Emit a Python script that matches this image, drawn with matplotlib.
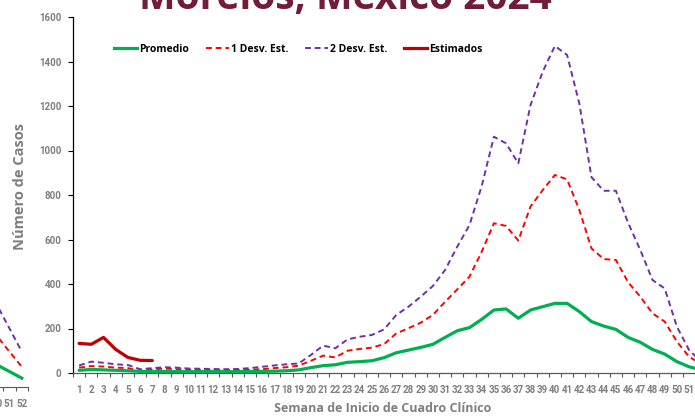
import numpy as np
import matplotlib
matplotlib.use("Agg")
import matplotlib.pyplot as plt
from matplotlib.lines import Line2D

# ---------------- data ----------------
weeks = list(range(1, 53))
promedio = [12, 16, 14, 12, 10, 7, 7, 7, 6, 6, 6, 6, 6, 6, 7, 7, 8, 10, 14, 24,
            33, 37, 48, 51, 55, 69, 91, 103, 115, 129, 160, 190, 204, 241, 283, 288,
            246, 283, 298, 313, 313, 276, 231, 211, 196, 160, 138, 106, 85, 51, 28, 14]
desv1 = [24, 31, 29, 24, 22, 9, 16, 20, 17, 15, 14, 13, 13, 13, 15, 17, 22, 26, 33, 55,
         78, 70, 100, 108, 114, 130, 178, 201, 226, 261, 320, 376, 433, 545, 673, 661,
         595, 748, 822, 890, 870, 733, 560, 512, 508, 408, 343, 268, 231, 141, 73, 40]
desv2 = [34, 51, 46, 39, 36, 17, 22, 26, 24, 20, 19, 18, 17, 18, 22, 28, 34, 39, 43, 81,
         123, 111, 151, 163, 171, 196, 261, 298, 343, 391, 463, 568, 665, 840, 1062, 1032,
         942, 1204, 1354, 1470, 1429, 1212, 880, 819, 819, 675, 553, 418, 380, 208, 103, 50]
est_weeks = [1, 2, 3, 4, 5, 6, 7]
estimados = [133, 129, 160, 106, 70, 57, 56]
yticks = [0, 200, 400, 600, 800, 1000, 1200, 1400, 1600]

# fragment of the neighbouring chart (left edge)
frag_weeks = [49, 50, 51, 52]
frag_prom = [120, 100, 70, 40]
frag_desv1 = [300, 230, 160, 91]
frag_desv2 = [475, 370, 265, 159]

title = "Morelos, México 2024"

GREEN = "#00b050"
RED = "#ff0000"
PURPLE = "#7030a0"
DRED = "#c00000"
GRAY = "#7f7f7f"
TICKFONT = ["Roboto", "DejaVu Sans"]
LABFONT = ["Open Sans", "DejaVu Sans"]

W, H = 695, 417
fig = plt.figure(figsize=(W / 100, H / 100), dpi=100)
fig.patch.set_facecolor("white")

def px(x0, y0_top, x1, y1_top):
    return [x0 / W, 1 - y1_top / H, (x1 - x0) / W, (y1_top - y0_top) / H]

def style_ticklabels(labels):
    for lab in labels:
        lab.set_fontfamily(TICKFONT)
        lab.set_fontsize(7)
        lab.set_fontweight("bold")
        lab.set_color(GRAY)

# ---------------- main axes ----------------
ax = fig.add_axes(px(73, 17, 73 + 52 * 12.2, 373))
ax.plot(weeks, promedio, color=GREEN, lw=2.3, solid_capstyle="round", zorder=3)
ax.plot(weeks, desv1, color=RED, lw=1.4, ls=(0, (3, 2)), zorder=2)
ax.plot(weeks, desv2, color=PURPLE, lw=1.4, ls=(0, (3, 2)), zorder=2)
ax.plot(est_weeks, estimados, color=DRED, lw=2.3, solid_capstyle="round", zorder=4)

ax.set_xlim(0.5, 52.5)
ax.set_ylim(0, 1600)
ax.set_yticks(yticks)
ax.set_yticklabels([str(v) for v in yticks])
ax.set_xticks(np.arange(0.5, 53, 1))
ax.set_xticklabels([])
ax.set_xticks(weeks, minor=True)
ax.set_xticklabels([str(w) for w in weeks], minor=True)
ax.tick_params(axis="x", which="major", direction="out", length=3, width=0.8, color="#595959")
ax.tick_params(axis="x", which="minor", length=0, pad=8.5)
ax.tick_params(axis="y", direction="out", length=3.5, width=0.8, pad=5, color="black")
style_ticklabels(ax.get_xticklabels(minor=True) + ax.get_yticklabels())
for s in ["top", "right"]:
    ax.spines[s].set_visible(False)
ax.spines["left"].set_color("black")
ax.spines["left"].set_linewidth(0.9)
ax.spines["bottom"].set_color("#595959")
ax.spines["bottom"].set_linewidth(0.9)

fig.text(20 / W, 1 - 187 / H, "Número de Casos", rotation=90, ha="center", va="center",
         fontsize=10.5, fontweight="bold", color=GRAY, family=LABFONT)
fig.text(383 / W, 1 - 408 / H, "Semana de Inicio de Cuadro Clínico", ha="center", va="center",
         fontsize=9, fontweight="bold", color=GRAY, family=LABFONT)

handles = [Line2D([], [], color=GREEN, lw=2.3),
           Line2D([], [], color=RED, lw=1.4, ls=(0, (3, 2))),
           Line2D([], [], color=PURPLE, lw=1.4, ls=(0, (3, 2))),
           Line2D([], [], color=DRED, lw=2.3)]
labels = ["Promedio", "1 Desv. Est.", "2 Desv. Est.", "Estimados"]
fig.legend(handles, labels, loc="center left", bbox_to_anchor=(110 / W, 1 - 49 / H),
           ncol=4, frameon=False, handlelength=2.2, handletextpad=0.2,
           columnspacing=1.6, borderaxespad=0,
           prop={"family": LABFONT, "size": 7.5, "weight": "bold"})

# title (cut off at top in reference)
fig.text(345 / W, 1 - 9 / H, title, ha="center", va="baseline", fontsize=28,
         fontweight="bold", color="#701c3a", family=LABFONT)

# ---------------- fragment of neighbouring chart ----------------
axf = fig.add_axes(px(28 - 52 * 12.5, 31, 28, 387))
axf.plot(frag_weeks, frag_prom, color=GREEN, lw=2.3)
axf.plot(frag_weeks, frag_desv1, color=RED, lw=1.4, ls=(0, (3, 2)))
axf.plot(frag_weeks, frag_desv2, color=PURPLE, lw=1.4, ls=(0, (3, 2)))
axf.set_xlim(0.5, 52.5)
axf.set_ylim(0, 1600)
axf.set_yticks([])
axf.set_xticks(np.arange(0.5, 53, 1))
axf.set_xticklabels([])
axf.set_xticks(weeks, minor=True)
axf.set_xticklabels([str(w) for w in weeks], minor=True)
axf.tick_params(axis="x", which="major", direction="out", length=3, width=0.8, color="#595959")
axf.tick_params(axis="x", which="minor", length=0, pad=8.5)
style_ticklabels(axf.get_xticklabels(minor=True))
for s in ["top", "right", "left"]:
    axf.spines[s].set_visible(False)
axf.spines["bottom"].set_color("#595959")
axf.patch.set_alpha(0)

fig.savefig("out.png", dpi=100)
